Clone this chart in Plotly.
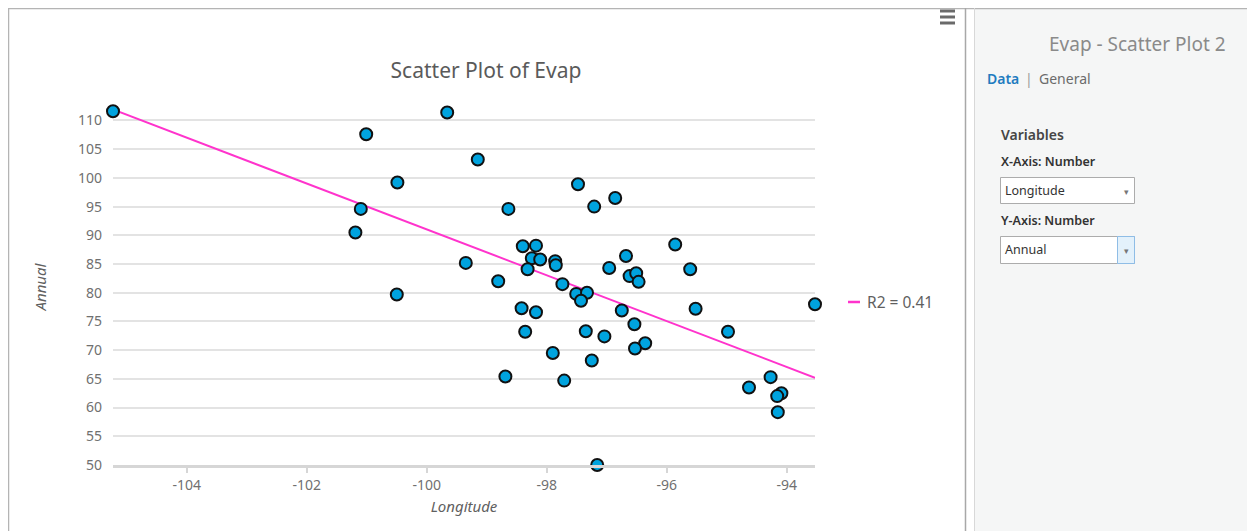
import numpy as np
import plotly.graph_objects as go

# values
longitude = [
    -105.23, -101.01, -100.49, -101.10, -101.19, -99.66, -99.15, -99.35, -100.50,
    -98.64, -97.48, -97.21, -96.86, -98.40, -98.18, -98.25, -98.11, -97.86,
    -97.85, -98.32, -98.81, -96.96, -96.68, -96.62, -96.51, -96.47, -95.86,
    -95.61, -97.74, -97.51, -97.33, -97.43, -98.42, -98.18, -96.75, -95.52,
    -93.53, -96.54, -97.35, -98.36, -97.04, -96.36, -96.53, -97.90, -97.25,
    -98.69, -97.71, -94.98, -94.63, -94.27, -94.09, -94.16, -94.15, -97.16,
]
annual = [
    111.6, 107.6, 99.2, 94.6, 90.5, 111.4, 103.2, 85.2, 79.7,
    94.6, 98.9, 95.0, 96.5, 88.1, 88.2, 86.0, 85.8, 85.5,
    84.8, 84.1, 82.0, 84.3, 86.4, 82.9, 83.4, 81.9, 88.4,
    84.1, 81.5, 79.8, 80.0, 78.6, 77.3, 76.6, 76.9, 77.2,
    78.0, 74.5, 73.3, 73.2, 72.4, 71.2, 70.3, 69.5, 68.2,
    65.4, 64.7, 73.2, 63.5, 65.3, 62.5, 62.0, 59.2, 50.0,
]
x_ticks = [-104, -102, -100, -98, -96, -94]
y_ticks = list(range(50, 111, 5))
r2_label = "R2 = 0.41"

# linear trend
x = np.array(longitude)
y = np.array(annual)
slope, intercept = np.polyfit(x, y, 1)
fit_x = [x.min(), x.max()]
fit_y = [slope * v + intercept for v in fit_x]

# the page body has an 8px margin, so the figure starts at (8, 8)
OFF = 8
W, H = 1255 - OFF, 531 - OFF
# plot area in page pixels
L, R, T, B = 113, 815, 109, 465


def px(v):
    return (v - L) / (R - L)


def py(v):
    return (B - v) / (B - T)


FONT = "Noto Sans"
GREY = "#707070"

fig = go.Figure()
fig.add_trace(go.Scatter(
    x=fit_x, y=fit_y, mode="lines", name=r2_label,
    line=dict(color="#ff33cc", width=2), hoverinfo="skip", showlegend=False,
))
fig.add_trace(go.Scatter(
    x=longitude, y=annual, mode="markers", name="Annual",
    marker=dict(size=12, color="#00a3de", line=dict(color="#111111", width=2)),
    cliponaxis=False, showlegend=False,
))


def box(x0, x1, y0, y1, **kw):
    return dict(type="rect", xref="paper", yref="paper",
                x0=px(x0), x1=px(x1), y0=py(y0), y1=py(y1), **kw)


def seg(x0, x1, y0, y1, **kw):
    return dict(type="line", xref="paper", yref="paper",
                x0=px(x0), x1=px(x1), y0=py(y0), y1=py(y1), **kw)


shapes = [
    # right side panel
    box(975, 1256, 9, 532, fillcolor="#f5f6f6", line=dict(width=0), layer="below"),
    # outer frame
    seg(7, 1256, 8.5, 8.5, line=dict(color="#b4b4b4", width=1.5)),
    seg(8.5, 8.5, 8, 532, line=dict(color="#b4b4b4", width=1.5)),
    seg(965.5, 965.5, 8, 532, line=dict(color="#a8a8a8", width=1.5)),
    seg(974.5, 974.5, 8, 532, line=dict(color="#d8d8d8", width=1)),
    # dropdown boxes
    box(1000.5, 1134.5, 177.5, 203.5, fillcolor="white", line=dict(color="#acacac", width=1)),
    box(1000.5, 1134.5, 236.5, 263.5, fillcolor="white", line=dict(color="#acacac", width=1)),
    box(1117.5, 1134.5, 236.5, 263.5, fillcolor="#e3f1fb", line=dict(color="#8fbde6", width=1)),
    # legend symbol
    seg(848, 860, 302, 302, line=dict(color="#ff33cc", width=2.5)),
]
# menu icon
for yy in (11, 17, 23):
    shapes.append(box(940, 955, yy - 1.5, yy + 1.5, fillcolor="#6a6a6a", line=dict(width=0)))


def note(text, xp, yp, size=13, color=GREY, xanchor="left", weight=None):
    font = dict(family=FONT, size=size, color=color)
    if weight:
        font["weight"] = weight
    return dict(text=text, x=px(xp), y=py(yp), xref="paper", yref="paper",
                xanchor=xanchor, yanchor="middle", showarrow=False, font=font)


annotations = [
    note(r2_label, 865, 302, size=15.5, color="#5f5f5f"),
    note("Evap - Scatter Plot 2", 1228, 44, size=19, color="#8a8a8a", xanchor="right"),
    note("Data", 985, 79, size=14, color="#1f7cc0", weight=600),
    note("|", 1029, 78, size=14, color="#9a9a9a", xanchor="center"),
    note("General", 1037, 79, size=14, color="#6b6b6b"),
    note("Variables", 999, 134, size=14, color="#454545", weight=600),
    note("X-Axis: Number", 999, 161, size=12.5, color="#333333", weight=600),
    note("Longitude", 1003, 190, size=12.5, color="#333333"),
    note("▾", 1126, 191, size=9, color="#777777", xanchor="center"),
    note("Y-Axis: Number", 999, 220, size=12.5, color="#333333", weight=600),
    note("Annual", 1003, 249, size=12.5, color="#333333"),
    note("▾", 1126, 250, size=9, color="#777777", xanchor="center"),
]

fig.update_layout(
    width=W, height=H,
    margin=dict(l=L - OFF, r=1255 - R, t=T - OFF, b=531 - B),
    paper_bgcolor="white", plot_bgcolor="white",
    font=dict(family=FONT, color=GREY, size=14),
    title=dict(text="Scatter Plot of Evap", x=(486 - OFF) / W, xref="container", xanchor="center",
               y=1 - (71 - OFF) / H, yref="container", yanchor="middle",
               font=dict(family=FONT, size=21, color="#5a5a5a")),
    xaxis=dict(
        range=[min(longitude), max(longitude)], tickvals=x_ticks,
        ticktext=[str(v) for v in x_ticks], showgrid=False,
        zeroline=False, showline=True, linecolor="#d6d6d6", linewidth=3,
        ticks="outside", ticklen=5, tickcolor="#d6d6d6", tickwidth=1.5,
        tickfont=dict(size=14, color=GREY),
        title=dict(text="Longitude", standoff=9,
                   font=dict(family=FONT, size=15, color="#606060", style="italic")),
    ),
    yaxis=dict(
        range=[50, 112], tickvals=y_ticks, showgrid=True, gridcolor="#e3e3e3",
        gridwidth=1.5, zeroline=False, showline=False, ticks="",
        ticklabelstandoff=10, tickfont=dict(size=14, color=GREY),
        title=dict(text="Annual", standoff=27,
                   font=dict(family=FONT, size=15, color="#606060", style="italic")),
    ),
    shapes=shapes,
    annotations=annotations,
)

fig.write_html("out.html")
